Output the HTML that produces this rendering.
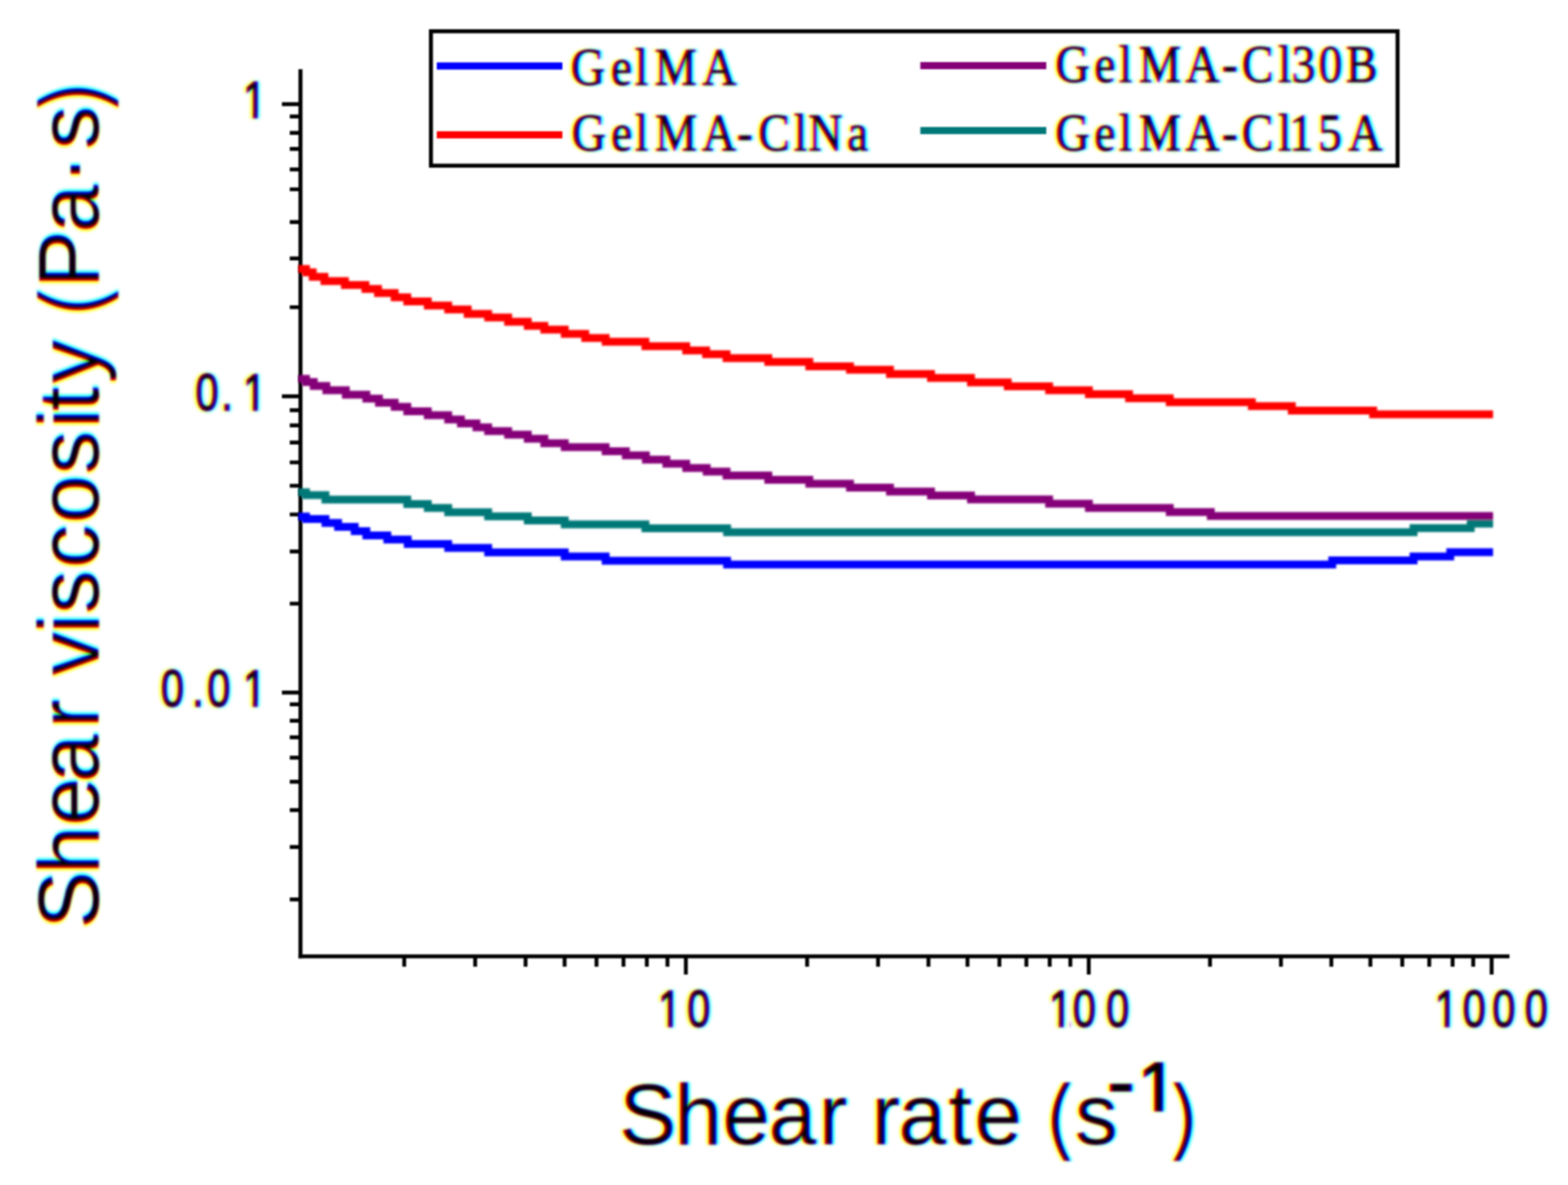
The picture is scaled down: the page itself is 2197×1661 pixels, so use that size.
<!DOCTYPE html>
<html><head><meta charset="utf-8"><title>Shear viscosity vs shear rate</title>
<style>
html,body{margin:0;padding:0;background:#fff;}
body{width:2197px;height:1661px;overflow:hidden;}
svg{display:block;}
</style></head>
<body>
<svg width="2197" height="1661" viewBox="0 0 2197 1661">
<defs>
<filter id="fgyt" filterUnits="userSpaceOnUse" x="216.0" y="106.0" width="155.0" height="893.0" color-interpolation-filters="sRGB">
  <feGaussianBlur in="SourceAlpha" stdDeviation="1.7" result="a"/>
  <feGaussianBlur in="SourceAlpha" stdDeviation="2.4" result="a2"/>
  <feOffset in="a2" dx="2.0" result="ar"/>
  <feOffset in="a2" dx="-3.0" result="ab"/>
  <feColorMatrix in="ar" type="matrix" values="0 0 0 1.0 0  0 0 0 0 0  0 0 0 0 0  0 0 0 0 1" result="r"/>
  <feColorMatrix in="a" type="matrix" values="0 0 0 0 0  0 0 0 1 0  0 0 0 0 0  0 0 0 0 1" result="g"/>
  <feColorMatrix in="ab" type="matrix" values="0 0 0 0 0  0 0 0 0 0  0 0 0 1.0 0  0 0 0 0 1" result="b"/>
  <feComposite in="r" in2="g" operator="arithmetic" k2="1" k3="1" result="rg"/>
  <feComposite in="rg" in2="b" operator="arithmetic" k2="1" k3="1" result="rgb"/>
  <feComponentTransfer in="rgb">
    <feFuncR type="linear" slope="-1" intercept="1"/>
    <feFuncG type="linear" slope="-1" intercept="1"/>
    <feFuncB type="linear" slope="-1" intercept="1"/>
  </feComponentTransfer>
</filter>
<filter id="fgxt" filterUnits="userSpaceOnUse" x="916.0" y="1379.0" width="1261.0" height="69.0" color-interpolation-filters="sRGB">
  <feGaussianBlur in="SourceAlpha" stdDeviation="1.7" result="a"/>
  <feGaussianBlur in="SourceAlpha" stdDeviation="2.4" result="a2"/>
  <feOffset in="a2" dx="2.0" result="ar"/>
  <feOffset in="a2" dx="-3.0" result="ab"/>
  <feColorMatrix in="ar" type="matrix" values="0 0 0 1.0 0  0 0 0 0 0  0 0 0 0 0  0 0 0 0 1" result="r"/>
  <feColorMatrix in="a" type="matrix" values="0 0 0 0 0  0 0 0 1 0  0 0 0 0 0  0 0 0 0 1" result="g"/>
  <feColorMatrix in="ab" type="matrix" values="0 0 0 0 0  0 0 0 0 0  0 0 0 1.0 0  0 0 0 0 1" result="b"/>
  <feComposite in="r" in2="g" operator="arithmetic" k2="1" k3="1" result="rg"/>
  <feComposite in="rg" in2="b" operator="arithmetic" k2="1" k3="1" result="rgb"/>
  <feComponentTransfer in="rgb">
    <feFuncR type="linear" slope="-1" intercept="1"/>
    <feFuncG type="linear" slope="-1" intercept="1"/>
    <feFuncB type="linear" slope="-1" intercept="1"/>
  </feComponentTransfer>
</filter>
<filter id="fgyti" filterUnits="userSpaceOnUse" x="-1305.0" y="-94.0" width="1191.0" height="129.0" color-interpolation-filters="sRGB">
  <feGaussianBlur in="SourceAlpha" stdDeviation="1.4" result="a"/>
  <feGaussianBlur in="SourceAlpha" stdDeviation="2.2" result="a2"/>
  <feOffset in="a2" dx="3.2" result="ar"/>
  <feOffset in="a2" dx="-3.2" result="ab"/>
  <feColorMatrix in="ar" type="matrix" values="0 0 0 1.0 0  0 0 0 0 0  0 0 0 0 0  0 0 0 0 1" result="r"/>
  <feColorMatrix in="a" type="matrix" values="0 0 0 0 0  0 0 0 1 0  0 0 0 0 0  0 0 0 0 1" result="g"/>
  <feColorMatrix in="ab" type="matrix" values="0 0 0 0 0  0 0 0 0 0  0 0 0 1.0 0  0 0 0 0 1" result="b"/>
  <feComposite in="r" in2="g" operator="arithmetic" k2="1" k3="1" result="rg"/>
  <feComposite in="rg" in2="b" operator="arithmetic" k2="1" k3="1" result="rgb"/>
  <feComponentTransfer in="rgb">
    <feFuncR type="linear" slope="-1" intercept="1"/>
    <feFuncG type="linear" slope="-1" intercept="1"/>
    <feFuncB type="linear" slope="-1" intercept="1"/>
  </feComponentTransfer>
</filter>
<filter id="fgxti" filterUnits="userSpaceOnUse" x="864.0" y="1482.0" width="816.0" height="152.0" color-interpolation-filters="sRGB">
  <feGaussianBlur in="SourceAlpha" stdDeviation="1.4" result="a"/>
  <feGaussianBlur in="SourceAlpha" stdDeviation="2.2" result="a2"/>
  <feOffset in="a2" dx="3.2" result="ar"/>
  <feOffset in="a2" dx="-3.2" result="ab"/>
  <feColorMatrix in="ar" type="matrix" values="0 0 0 1.0 0  0 0 0 0 0  0 0 0 0 0  0 0 0 0 1" result="r"/>
  <feColorMatrix in="a" type="matrix" values="0 0 0 0 0  0 0 0 1 0  0 0 0 0 0  0 0 0 0 1" result="g"/>
  <feColorMatrix in="ab" type="matrix" values="0 0 0 0 0  0 0 0 0 0  0 0 0 1.0 0  0 0 0 0 1" result="b"/>
  <feComposite in="r" in2="g" operator="arithmetic" k2="1" k3="1" result="rg"/>
  <feComposite in="rg" in2="b" operator="arithmetic" k2="1" k3="1" result="rgb"/>
  <feComponentTransfer in="rgb">
    <feFuncR type="linear" slope="-1" intercept="1"/>
    <feFuncG type="linear" slope="-1" intercept="1"/>
    <feFuncB type="linear" slope="-1" intercept="1"/>
  </feComponentTransfer>
</filter>
<filter id="fglegl" filterUnits="userSpaceOnUse" x="792.0" y="60.0" width="433.0" height="159.0" color-interpolation-filters="sRGB">
  <feGaussianBlur in="SourceAlpha" stdDeviation="1.4" result="a"/>
  <feGaussianBlur in="SourceAlpha" stdDeviation="2.2" result="a2"/>
  <feOffset in="a2" dx="3.2" result="ar"/>
  <feOffset in="a2" dx="-3.2" result="ab"/>
  <feColorMatrix in="ar" type="matrix" values="0 0 0 1.0 0  0 0 0 0 0  0 0 0 0 0  0 0 0 0 1" result="r"/>
  <feColorMatrix in="a" type="matrix" values="0 0 0 0 0  0 0 0 1 0  0 0 0 0 0  0 0 0 0 1" result="g"/>
  <feColorMatrix in="ab" type="matrix" values="0 0 0 0 0  0 0 0 0 0  0 0 0 1.0 0  0 0 0 0 1" result="b"/>
  <feComposite in="r" in2="g" operator="arithmetic" k2="1" k3="1" result="rg"/>
  <feComposite in="rg" in2="b" operator="arithmetic" k2="1" k3="1" result="rgb"/>
  <feComponentTransfer in="rgb">
    <feFuncR type="linear" slope="-1" intercept="1"/>
    <feFuncG type="linear" slope="-1" intercept="1"/>
    <feFuncB type="linear" slope="-1" intercept="1"/>
  </feComponentTransfer>
</filter>
<filter id="fglegr" filterUnits="userSpaceOnUse" x="1471.0" y="56.0" width="475.0" height="163.0" color-interpolation-filters="sRGB">
  <feGaussianBlur in="SourceAlpha" stdDeviation="1.4" result="a"/>
  <feGaussianBlur in="SourceAlpha" stdDeviation="2.2" result="a2"/>
  <feOffset in="a2" dx="3.2" result="ar"/>
  <feOffset in="a2" dx="-3.2" result="ab"/>
  <feColorMatrix in="ar" type="matrix" values="0 0 0 1.0 0  0 0 0 0 0  0 0 0 0 0  0 0 0 0 1" result="r"/>
  <feColorMatrix in="a" type="matrix" values="0 0 0 0 0  0 0 0 1 0  0 0 0 0 0  0 0 0 0 1" result="g"/>
  <feColorMatrix in="ab" type="matrix" values="0 0 0 0 0  0 0 0 0 0  0 0 0 1.0 0  0 0 0 0 1" result="b"/>
  <feComposite in="r" in2="g" operator="arithmetic" k2="1" k3="1" result="rg"/>
  <feComposite in="rg" in2="b" operator="arithmetic" k2="1" k3="1" result="rgb"/>
  <feComponentTransfer in="rgb">
    <feFuncR type="linear" slope="-1" intercept="1"/>
    <feFuncG type="linear" slope="-1" intercept="1"/>
    <feFuncB type="linear" slope="-1" intercept="1"/>
  </feComponentTransfer>
</filter>
<filter id="soft" x="-2%" y="-2%" width="104%" height="104%">
  <feGaussianBlur stdDeviation="1.1"/>
</filter>
<filter id="soft2" x="-2%" y="-5%" width="104%" height="110%">
  <feGaussianBlur stdDeviation="1.7"/>
</filter>
<clipPath id="c0" clipPathUnits="userSpaceOnUse"><rect x="-5000" y="-5000" width="20000" height="4992.82"/><rect x="442.92" y="-8.18" width="8.40" height="37.18"/></clipPath>
<clipPath id="c1" clipPathUnits="userSpaceOnUse"><rect x="-5000" y="-5000" width="20000" height="4992.82"/><rect x="337.48" y="-8.18" width="50.04" height="37.18"/><rect x="382.50" y="-8.18" width="30.00" height="37.18"/><rect x="442.92" y="-8.18" width="8.40" height="37.18"/></clipPath>
<clipPath id="c2" clipPathUnits="userSpaceOnUse"><rect x="-5000" y="-5000" width="20000" height="4992.82"/><rect x="276.85" y="-8.18" width="50.04" height="37.18"/><rect x="331.75" y="-8.18" width="30.00" height="37.18"/><rect x="357.98" y="-8.18" width="50.04" height="37.18"/><rect x="442.80" y="-8.18" width="8.40" height="37.18"/></clipPath>
<clipPath id="c3" clipPathUnits="userSpaceOnUse"><rect x="-5000" y="-5000" width="20000" height="4992.82"/><rect x="1169.80" y="-8.18" width="8.40" height="37.18"/><rect x="1198.85" y="-8.18" width="50.04" height="37.18"/></clipPath>
<clipPath id="c4" clipPathUnits="userSpaceOnUse"><rect x="-5000" y="-5000" width="20000" height="4992.82"/><rect x="1854.42" y="-8.18" width="8.40" height="37.18"/><rect x="1874.23" y="-8.18" width="50.04" height="37.18"/><rect x="1932.35" y="-8.18" width="50.04" height="37.18"/></clipPath>
<clipPath id="c5" clipPathUnits="userSpaceOnUse"><rect x="-5000" y="-5000" width="20000" height="4992.82"/><rect x="2530.05" y="-8.18" width="8.40" height="37.18"/><rect x="2556.85" y="-8.18" width="50.04" height="37.18"/><rect x="2608.73" y="-8.18" width="50.04" height="37.18"/><rect x="2665.48" y="-8.18" width="50.04" height="37.18"/></clipPath>
<clipPath id="c6" clipPathUnits="userSpaceOnUse"><rect x="-5000" y="-5000" width="20000" height="4989.00"/><rect x="1796.98" y="-12.00" width="13.60" height="41.00"/></clipPath></defs>
<rect width="2197" height="1661" fill="#fff"/>
<g filter="url(#soft)">
<line x1="421" y1="97" x2="421" y2="1343.3" stroke="#000" stroke-width="5.6"/>
<line x1="418.2" y1="1340.5" x2="2115" y2="1340.5" stroke="#000" stroke-width="5.6"/>
<path d="M395 146.0H421M395 555.5H421M406 430.6H421M406 362.3H421M406 311.2H421M406 265.4H421M406 237.5H421M406 208.8H421M406 186.2H421M406 163.2H421M395 970.8H421M406 846.1H421M406 773.0H421M406 721.1H421M406 680.9H421M406 648.1H421M406 620.3H421M406 596.2H421M406 575.0H421M406 1260.8H421M406 1187.3H421M406 1135.5H421M406 1095.8H421M406 1062.0H421M406 1033.5H421M406 1010.2H421M406 987.3H421" stroke="#000" stroke-width="5.4" fill="none"/>
<path d="M566.4 1340.5V1355M665.8 1340.5V1355M736.4 1340.5V1355M791.1 1340.5V1355M835.8 1340.5V1355M873.6 1340.5V1355M906.3 1340.5V1355M935.2 1340.5V1355M961.0 1340.5V1366M1130.9 1340.5V1355M1230.3 1340.5V1355M1300.9 1340.5V1355M1355.6 1340.5V1355M1400.3 1340.5V1355M1438.1 1340.5V1355M1470.8 1340.5V1355M1499.7 1340.5V1355M1525.5 1340.5V1366M1695.4 1340.5V1355M1794.8 1340.5V1355M1865.4 1340.5V1355M1920.1 1340.5V1355M1964.8 1340.5V1355M2002.6 1340.5V1355M2035.3 1340.5V1355M2064.2 1340.5V1355M2090.0 1340.5V1366" stroke="#000" stroke-width="5.4" fill="none"/>
<rect x="603.8" y="43.8" width="1354.4" height="188.4" fill="none" stroke="#000" stroke-width="5.6"/>
<rect x="612" y="87.5" width="176" height="10" fill="#0000ff"/>
<rect x="612" y="184" width="176" height="10" fill="#ff0000"/>
<rect x="1289.5" y="87" width="176.5" height="10" fill="#850078"/>
<rect x="1289.5" y="178" width="176.5" height="10" fill="#007878"/>
</g>
<g filter="url(#soft2)">
<path d="M418.0 690.0H428.7V694.1H456.0V700.3H570.7V706.4H599.4V711.9H628.0V718.0H684.0V723.8H739.5V729.4H791.3V735.1H904.3V740.5H1018.8V746.0H1980.6V740.3H2060.7V734.0H2092.0" fill="none" stroke="#007878" stroke-width="11" stroke-linejoin="miter" stroke-linecap="butt"/>
<path d="M418.0 724.0H428.7V727.6H456.0V733.0H473.7V738.5H497.0V744.6H513.3V750.4H542.7V756.3H571.3V762.4H628.0V768.1H684.0V774.3H791.3V780.0H848.6V785.9H1018.8V791.2H1866.7V785.4H1980.6V779.9H2032.0V774.0H2092.0" fill="none" stroke="#0000ff" stroke-width="11" stroke-linejoin="miter" stroke-linecap="butt"/>
<path d="M418.0 531.0H428.7V535.5H439.6V541.0H457.3V547.1H484.6V553.2H513.3V558.7H531.0V564.4H553.0V570.3H570.7V576.5H599.4V581.9H628.0V588.0H645.8V593.5H667.6V599.0H684.0V604.3H712.0V609.3H739.5V615.1H762.7V621.3H791.3V626.7H848.6V632.6H876.9V638.3H905.0V644.2H933.7V649.9H961.5V656.1H990.2V661.0H1018.0V666.6H1076.5V672.6H1134.0V678.0H1191.0V683.5H1247.0V689.0H1304.5V694.4H1360.5V700.0H1470.0V706.0H1525.7V712.0H1639.0V717.8H1696.5V723.3H2092.0" fill="none" stroke="#850078" stroke-width="11" stroke-linejoin="miter" stroke-linecap="butt"/>
<path d="M418.0 377.0H428.7V381.8H438.2V388.0H454.6V394.1H483.3V399.6H512.0V405.0H529.7V410.8H553.0V416.7H570.7V422.4H599.4V428.3H628.0V433.7H655.3V439.9H684.0V445.0H712.0V451.0H739.5V456.7H762.7V462.1H791.3V468.0H820.0V473.7H848.6V479.1H904.3V485.3H961.5V491.2H989.4V496.5H1018.0V502.0H1076.5V507.3H1134.0V513.4H1191.0V518.3H1247.0V524.3H1304.5V529.7H1360.5V536.0H1412.0V541.5H1470.0V547.0H1525.7V552.4H1582.0V558.2H1639.0V563.8H1754.0V569.3H1810.0V575.6H1924.0V580.8H2092.0" fill="none" stroke="#ff0000" stroke-width="11" stroke-linejoin="miter" stroke-linecap="butt"/>
</g>
<g><g id="gyt" filter="url(#fgyt)" style="mix-blend-mode:multiply"><text x="425.9" y="0" font-family='"Liberation Sans", Arial, sans-serif' font-size="72" fill="#000" stroke="#000" stroke-width="2.1" clip-path="url(#c0)" transform="translate(0 165) scale(0.8 1)">1</text><text x="342.5 387.5 425.9" y="0" font-family='"Liberation Sans", Arial, sans-serif' font-size="72" fill="#000" stroke="#000" stroke-width="2.1" clip-path="url(#c1)" transform="translate(0 575) scale(0.8 1)">0.1</text><text x="281.9 336.7 363.0 425.8" y="0" font-family='"Liberation Sans", Arial, sans-serif' font-size="72" fill="#000" stroke="#000" stroke-width="2.1" clip-path="url(#c2)" transform="translate(0 990) scale(0.8 1)">0.01</text></g></g>
<g><g id="gxt" filter="url(#fgxt)" style="mix-blend-mode:multiply"><text x="1152.8 1203.9" y="0" font-family='"Liberation Sans", Arial, sans-serif' font-size="72" fill="#000" stroke="#000" stroke-width="2.1" clip-path="url(#c3)" transform="translate(0 1439) scale(0.8 1)">10</text><text x="1837.4 1879.2 1937.4" y="0" font-family='"Liberation Sans", Arial, sans-serif' font-size="72" fill="#000" stroke="#000" stroke-width="2.1" clip-path="url(#c4)" transform="translate(0 1439) scale(0.8 1)">100</text><text x="2513.0 2561.9 2613.7 2670.5" y="0" font-family='"Liberation Sans", Arial, sans-serif' font-size="72" fill="#000" stroke="#000" stroke-width="2.1" clip-path="url(#c5)" transform="translate(0 1439) scale(0.8 1)">1000</text></g></g>
<g transform="translate(138 0) rotate(-90)"><g id="gyti" filter="url(#fgyti)" style="mix-blend-mode:multiply"><text x="-1301.5 -1225.1 -1157.3 -1096.4 -1020.5 -980.5 -946.5 -887.8 -860.0 -796.0 -733.2 -664.5 -599.9 -576.1 -537.0 -477.0 -446.4 -403.6 -325.9 -257.7 -209.1 -160.7" y="0.0 0.0 0.0 0.0 0.0 0.0 0.0 0.0 0.0 0.0 0.0 0.0 0.0 0.0 0.0 0.0 10.0 0.0 0.0 0.0 0.0 10.0" font-family='"Liberation Sans", Arial, sans-serif' font-size="120" fill="#000">Shear viscosity <tspan font-family='"DejaVu Sans", sans-serif' font-weight='200' font-size='123' stroke='#000' stroke-width='3.4'>(</tspan>Pa&#183;s<tspan font-family='"DejaVu Sans", sans-serif' font-weight='200' font-size='123' stroke='#000' stroke-width='3.4'>)</tspan></text></g></g>
<g><g id="gxti" filter="url(#fgxti)" style="mix-blend-mode:multiply"><text x="867.4 944.7 1012.0 1076.7 1147.2 1187.2 1221.0 1258.8 1328.7 1365.1 1431.9 1462.4 1506.0" y="1604.0 1604.0 1604.0 1604.0 1604.0 1604.0 1604.0 1604.0 1604.0 1604.0 1604.0 1610.0 1604.0" font-family='"Liberation Sans", Arial, sans-serif' font-size="120" fill="#000" >Shear rate <tspan font-family='"DejaVu Sans", sans-serif' font-weight='200' font-size='119' stroke='#000' stroke-width='3.4'>(</tspan>s</text><text x="1633.9" y="1610" font-family='"DejaVu Sans", sans-serif' font-size="119" fill="#000" font-weight="200" stroke="#000" stroke-width="3.4">)</text><text x="1148.4" y="0" font-family='"Liberation Sans", Arial, sans-serif' font-size="90" fill="#000" font-weight="bold" transform="translate(0 1548) scale(1.35 1)">-</text><text x="1773.7" y="0" font-family='"Liberation Sans", Arial, sans-serif' font-size="100" fill="#000" font-weight="bold" clip-path="url(#c6)" transform="translate(0 1558) scale(0.9 1)">1</text></g></g>
<g><g id="glegl" filter="url(#fglegl)" style="mix-blend-mode:multiply"><text x="908.9 972.7 1010.9 1042.2 1118.3" y="0" font-family='"Liberation Serif", "Times New Roman", serif' font-size="75" fill="#000" stroke="#000" stroke-width="1.2" transform="translate(0 118.5) scale(0.88 1)">GelMA</text><text x="910.1 973.0 1011.2 1042.8 1117.7 1173.3 1207.3 1264.0 1286.9 1348.5" y="0" font-family='"Liberation Serif", "Times New Roman", serif' font-size="75" fill="#000" stroke="#000" stroke-width="1.2" transform="translate(0 211) scale(0.88 1)">GelMA-ClNa</text></g></g>
<g><g id="glegr" filter="url(#fglegr)" style="mix-blend-mode:multiply"><text x="1680.5 1742.3 1781.6 1813.3 1887.6 1945.4 1977.2 2035.0 2056.5 2099.4 2142.8" y="0" font-family='"Liberation Serif", "Times New Roman", serif' font-size="75" fill="#000" stroke="#000" stroke-width="1.2" transform="translate(0 115) scale(0.88 1)">GelMA-Cl30B</text><text x="1680.5 1742.3 1781.6 1813.3 1887.6 1945.4 1977.2 2035.0 2052.9 2098.7 2146.7" y="0" font-family='"Liberation Serif", "Times New Roman", serif' font-size="75" fill="#000" stroke="#000" stroke-width="1.2" transform="translate(0 211) scale(0.88 1)">GelMA-Cl15A</text></g></g>
</svg>
</body></html>
